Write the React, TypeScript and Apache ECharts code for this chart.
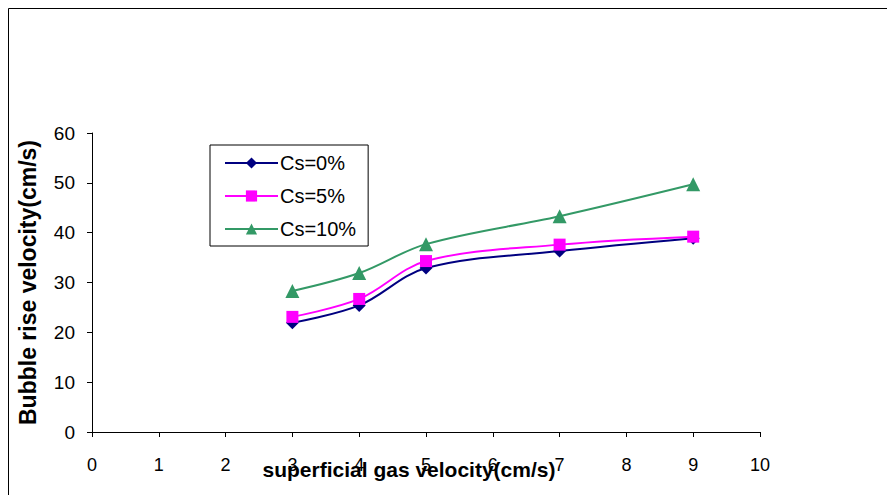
import React, { useEffect, useRef } from "react";
import * as echarts from "echarts";

const gasVelocity = [3, 4, 5, 7, 9];
const cs0 = [21.9, 25.4, 32.9, 36.3, 38.9];
const cs5 = [23.1, 26.7, 34.3, 37.6, 39.2];
const cs10 = [28.3, 31.9, 37.7, 43.3, 49.7];
const seriesNames = ["Cs=0%", "Cs=5%", "Cs=10%"];

export default function App() {
  const ref = useRef<HTMLDivElement>(null);
  useEffect(() => {
    const chart = echarts.init(ref.current!, null, { renderer: "svg" });
    const font = "Liberation Sans, Arial, sans-serif";
    const mk = (vals: number[]) => gasVelocity.map((x, i) => [x, vals[i]]);
    chart.setOption({
      animation: false,
      backgroundColor: "#fff",
      textStyle: { fontFamily: font },
      graphic: [
        {
          type: "rect",
          shape: { x: 8.5, y: 8.5, width: 950, height: 600 },
          style: { fill: "none", stroke: "#000", lineWidth: 1 },
          silent: true,
        },
      ],
      grid: {
        left: 92,
        top: 133,
        width: 668,
        height: 299,
        containLabel: false,
        outerBoundsMode: "none",
      },
      xAxis: {
        type: "value",
        min: 0,
        max: 10,
        interval: 1,
        name: "superficial gas velocity(cm/s)",
        nameLocation: "middle",
        nameGap: 27,
        nameMoveOverlap: false,
        nameTextStyle: { fontSize: 21, fontWeight: "bold", color: "#000", fontFamily: font, padding: [0, 34, 0, 0] },
        axisLine: { show: true, lineStyle: { color: "#000", width: 1 } },
        axisTick: { show: true, length: 5, lineStyle: { color: "#000" } },
        axisLabel: { fontSize: 18, color: "#000", margin: 24, fontFamily: font },
        splitLine: { show: false },
      },
      yAxis: {
        type: "value",
        min: 0,
        max: 60,
        interval: 10,
        name: "Bubble rise velocity(cm/s)",
        nameLocation: "middle",
        nameGap: 53,
        nameMoveOverlap: false,
        nameRotate: 90,
        nameTextStyle: { fontSize: 23, fontWeight: "bold", color: "#000", fontFamily: font },
        axisLine: { show: true, lineStyle: { color: "#000", width: 1 } },
        axisTick: { show: true, length: 5, lineStyle: { color: "#000" } },
        axisLabel: { fontSize: 19, color: "#000", margin: 17, fontFamily: font },
        splitLine: { show: false },
      },
      legend: {
        orient: "vertical",
        left: 210,
        top: 145,
        padding: [8, 12, 7, 14],
        itemGap: 13,
        itemWidth: 53,
        itemHeight: 14,
        borderColor: "#000",
        borderWidth: 1,
        borderRadius: 0,
        textStyle: { fontSize: 20, lineHeight: 20, color: "#000", fontFamily: font, padding: [0, 0, 0, -3] },
        data: seriesNames,
      },
      series: [
        {
          name: seriesNames[0],
          type: "line",
          data: mk(cs0),
          smooth: 0.35,
          symbol: "diamond",
          symbolSize: 13,
          color: "#000080",
          lineStyle: { width: 2, color: "#000080" },
          itemStyle: { color: "#000080" },
          z: 3,
        },
        {
          name: seriesNames[1],
          type: "line",
          data: mk(cs5),
          smooth: 0.35,
          symbol: "rect",
          symbolSize: 12,
          color: "#FF00FF",
          lineStyle: { width: 2, color: "#FF00FF" },
          itemStyle: { color: "#FF00FF" },
          z: 4,
        },
        {
          name: seriesNames[2],
          type: "line",
          data: mk(cs10),
          smooth: 0.35,
          symbol: "triangle",
          symbolSize: 14,
          color: "#339966",
          lineStyle: { width: 2, color: "#339966" },
          itemStyle: { color: "#339966" },
          z: 5,
        },
      ],
    });
    return () => chart.dispose();
  }, []);
  return (
    <div
      ref={ref}
      style={{ position: "absolute", left: 0, top: 0, width: 887, height: 495 }}
    />
  );
}
